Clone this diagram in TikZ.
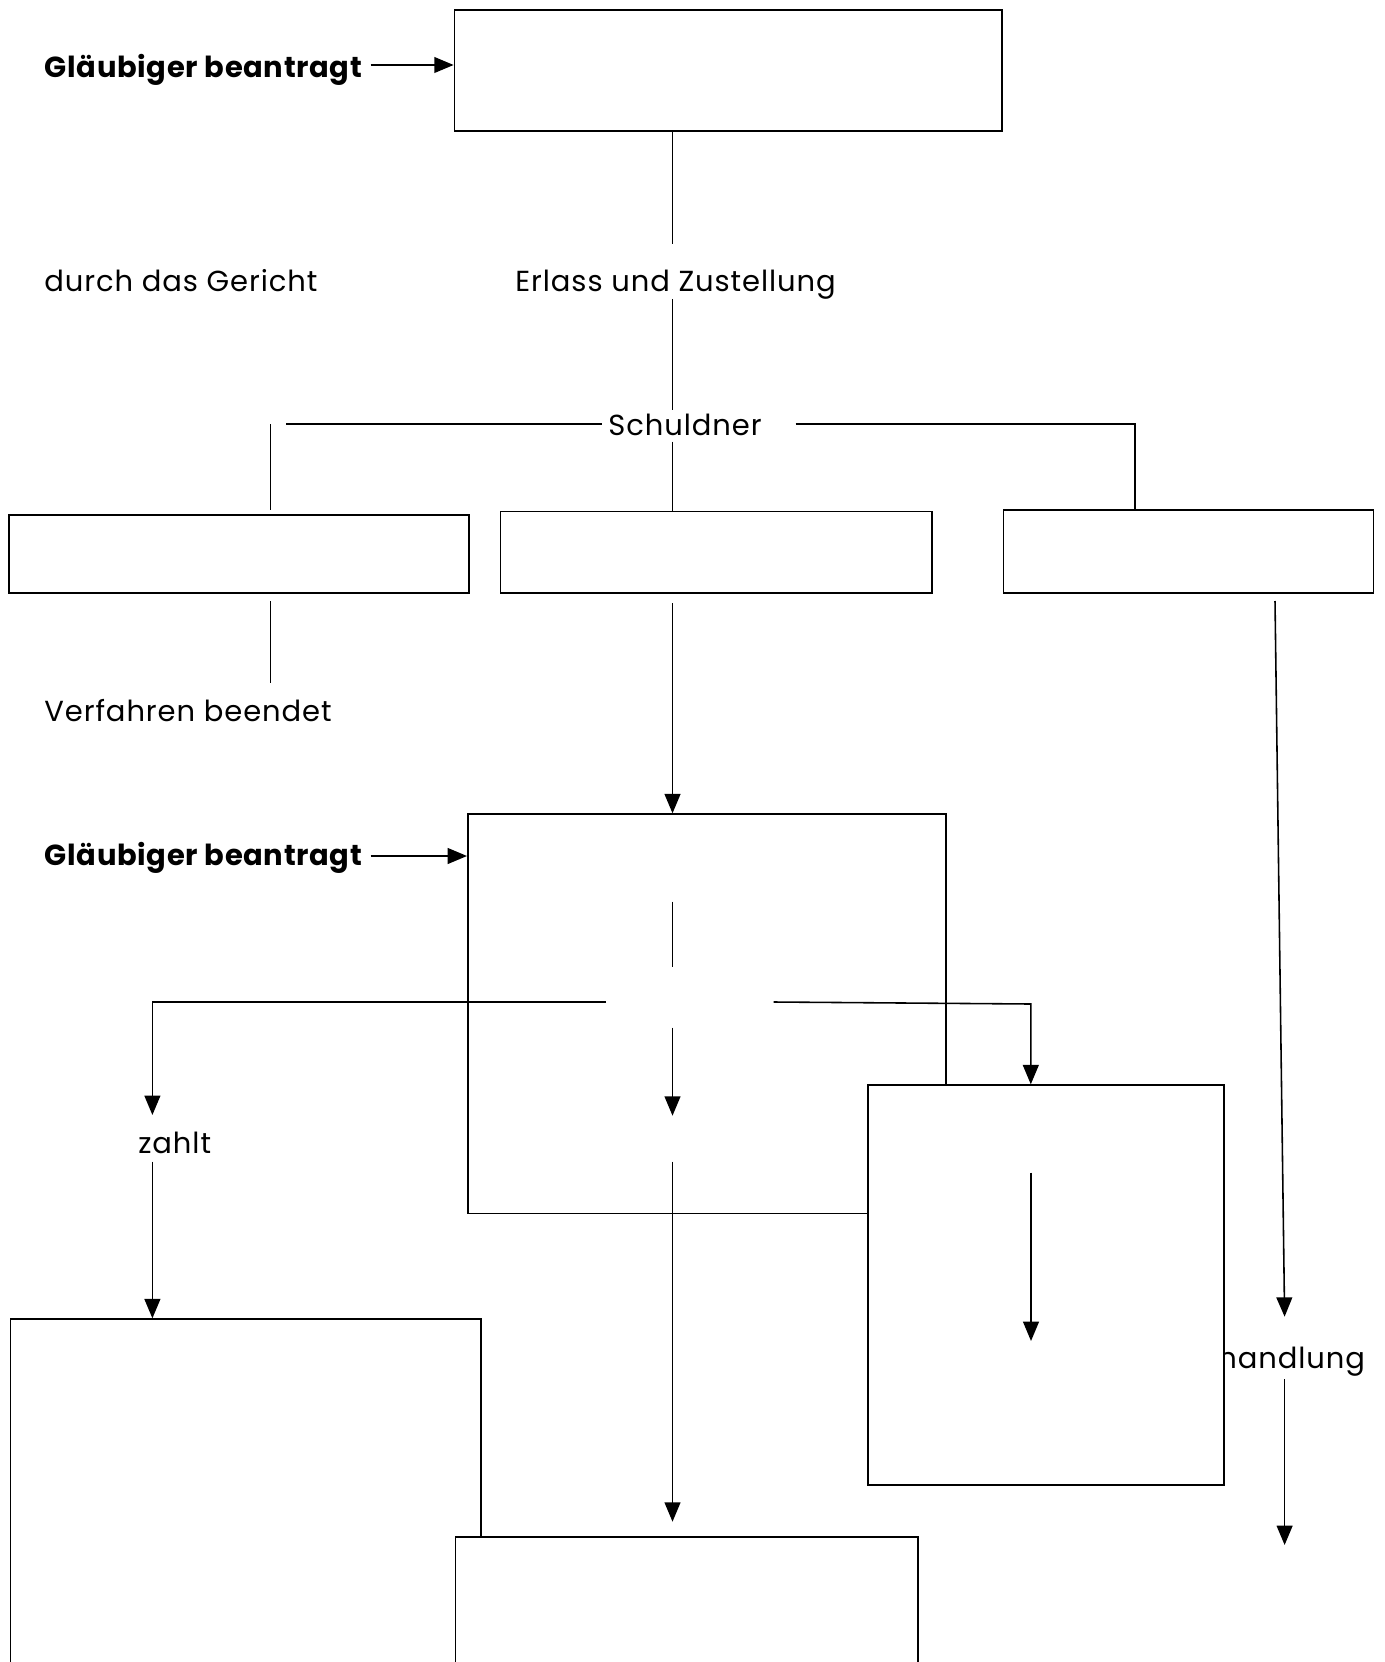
\documentclass[tikz,border=0pt]{standalone}
\usepackage{fontspec}
\setmainfont[LetterSpace=3.2, BoldFeatures={LetterSpace=2.2}]{Poppins}
\usetikzlibrary{arrows.meta}

\begin{document}
\begin{tikzpicture}[x=0.02cm, y=-0.02cm,
    box/.style={draw, fill=white, line width=1pt, anchor=north west, inner sep=0pt},
    lbl/.style={anchor=base west, inner sep=0pt, font=\fontsize{16.5}{19}\selectfont},
    link/.style={line width=0.9pt},
    arr/.style={link, -{Triangle[length=11pt, width=9pt]}}]

    \clip (0,0) rectangle (1384,1662);

    % Antrag at the top
    \node[box, minimum width=10.95cm, minimum height=2.41cm] (antrag) at (453.6,9.3) {};
    \node[lbl, font=\fontsize{16.5}{19}\selectfont\bfseries] (glb1) at (44.5,77.3) {Gläubiger beantragt};
    \coordinate (a1) at (370.7,65);
    \draw[arr] (a1) -- (a1 -| antrag.west);

    \node[lbl] (gericht) at (44,291.7) {durch das Gericht};
    \node[lbl] (erlass) at (515,291.7) {Erlass und Zustellung};
    \node[lbl] (schuldner) at (608,435) {Schuldner};

    \coordinate (t1) at (672.5,244);
    \coordinate (t2) at (672.5,299);
    \coordinate (t3) at (672.5,410);
    \coordinate (t4) at (672.5,441.7);
    \draw[link] (t1 |- antrag.south) -- (t1);
    \draw[link] (t2) -- (t3);

    % three reactions of the Schuldner
    \node[box, minimum width=9.2cm, minimum height=1.566cm] (optA) at (8,514) {};
    \node[box, minimum width=8.634cm, minimum height=1.626cm] (optB) at (499.6,510.7) {};
    \node[box, minimum width=7.402cm, minimum height=1.66cm] (optC) at (1002.6,509) {};

    \draw[link] (t4) -- (t4 |- optB.north);
    \coordinate (hl1) at (286,424);
    \coordinate (hl2) at (602,424);
    \coordinate (vl1) at (270.5,424);
    \coordinate (vl2) at (270.5,510);
    \draw[link] (hl1) -- (hl2);
    \draw[link] (vl1) -- (vl2);
    \coordinate (hr1) at (795.6,424);
    \coordinate (hr2) at (1134.8,424);
    \draw[link] (hr1) -- (hr2) -- (hr2 |- optC.north);

    % below the row
    \coordinate (la1) at (270.5,601);
    \coordinate (la2) at (270.5,682.7);
    \draw[link] (la1) -- (la2);
    \node[lbl] (beendet) at (44,721.7) {Verfahren beendet};

    \node[box, minimum width=9.568cm, minimum height=7.988cm] (vollst) at (467,813.3) {};
    \coordinate (ma1) at (672.5,603);
    \draw[arr] (ma1) -- (ma1 |- vollst.north);
    \coordinate (ra1) at (1275,601);
    \coordinate (ra2) at (1284.6,1316.7);
    \draw[arr] (ra1) -- (ra2);

    \node[lbl, font=\fontsize{16.5}{19}\selectfont\bfseries] (glb2) at (44.5,865) {Gläubiger beantragt};
    \coordinate (a2) at (370.7,856);
    \draw[arr] (a2) -- (a2 -| vollst.west);

    % branches inside the second box
    \coordinate (v1) at (672.5,901.7);
    \coordinate (v2) at (672.5,966.7);
    \draw[link] (v1) -- (v2);
    \coordinate (hl3) at (606,1002);
    \coordinate (hl4) at (152.4,1002);
    \coordinate (hl5) at (152.4,1115);
    \draw[arr] (hl3) -- (hl4) -- (hl5);
    \coordinate (v3) at (672.5,1027.7);
    \coordinate (v4) at (672.5,1115.7);
    \draw[arr] (v3) -- (v4);

    \node[lbl] (zahlt) at (138,1153) {zahlt};
    \node[lbl] (handlung) at (1218,1368.3) {handlung};

    \node[box, minimum width=7.12cm, minimum height=7.994cm] (einsp) at (867,1084.3) {};
    \coordinate (hr3) at (773.6,1002);
    \coordinate (hr4) at (1030.8,1004);
    \draw[arr] (hr3) -- (hr4) -- (hr4 |- einsp.north);
    \coordinate (e1) at (1031,1172.7);
    \coordinate (e2) at (1031,1341);
    \draw[arr] (e1) -- (e2);

    \coordinate (ra3) at (1284.6,1379.3);
    \coordinate (ra4) at (1284.6,1545);
    \draw[arr] (ra3) -- (ra4);

    % bottom boxes
    \node[box, minimum width=9.406cm, minimum height=8cm] (pay) at (9.7,1318.3) {};
    \coordinate (za1) at (152.4,1161.7);
    \draw[arr] (za1) -- (za1 |- pay.north);
    \coordinate (v5) at (672.5,1161.7);
    \coordinate (v6) at (672.5,1521.7);
    \draw[arr] (v5) -- (v6);
    \node[box, minimum width=9.248cm, minimum height=4cm] (exec) at (454.6,1536) {};

\end{tikzpicture}
\end{document}
